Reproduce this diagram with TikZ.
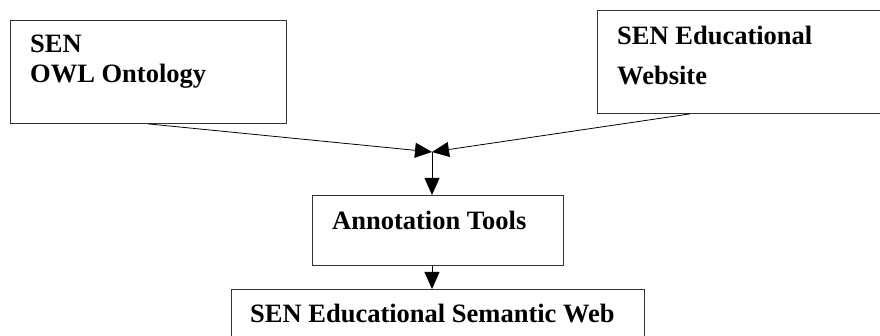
\documentclass[tikz,border=0pt]{standalone}
\usepackage{fontspec}
\setmainfont{Liberation Serif}
\usetikzlibrary{arrows.meta}
\tikzset{
  box/.style={draw=black!80,line width=0.9pt,rectangle,inner sep=0pt,anchor=north west},
  lbl/.style={anchor=base west,inner sep=0pt,font=\fontsize{26.5}{30}\selectfont\bfseries},
  link/.style={line width=0.8pt,-{Triangle[length=17pt,width=15pt]}}
}
\begin{document}
\begin{tikzpicture}[x=1pt,y=-1pt]
\useasboundingbox (0,0) rectangle (880,336);
% boxes
\node[box,minimum width=276.5pt,minimum height=103pt](b1) at (9.5,20) {};
\node[box,minimum width=320pt,minimum height=103pt](b2) at (597,10) {};
\node[box,minimum width=251pt,minimum height=70pt](b3) at (312,195) {};
\node[box,minimum width=413pt,minimum height=70pt](b4) at (231,289) {};
% texts
\node[lbl](t1a) at (30,53) {SEN};
\node[lbl](t1b) at (30,83) {OWL Ontology};
\node[lbl](t2a) at (617,45) {SEN Educational};
\node[lbl](t2b) at (617,85) {Website};
\node[lbl](t3) at (332,230) {Annotation Tools};
\node[lbl](t4) at (250,323) {SEN Educational Semantic Web};
% connectors
\coordinate(m) at (432,152);
\draw[link] (b1.south) -- (m);
\draw[link] ([xshift=93pt]b2.south west) -- (m);
\draw[link] (m) -- (m |- b3.north);
\draw[link] (m |- b3.south) -- (m |- b4.north);
\end{tikzpicture}
\end{document}
